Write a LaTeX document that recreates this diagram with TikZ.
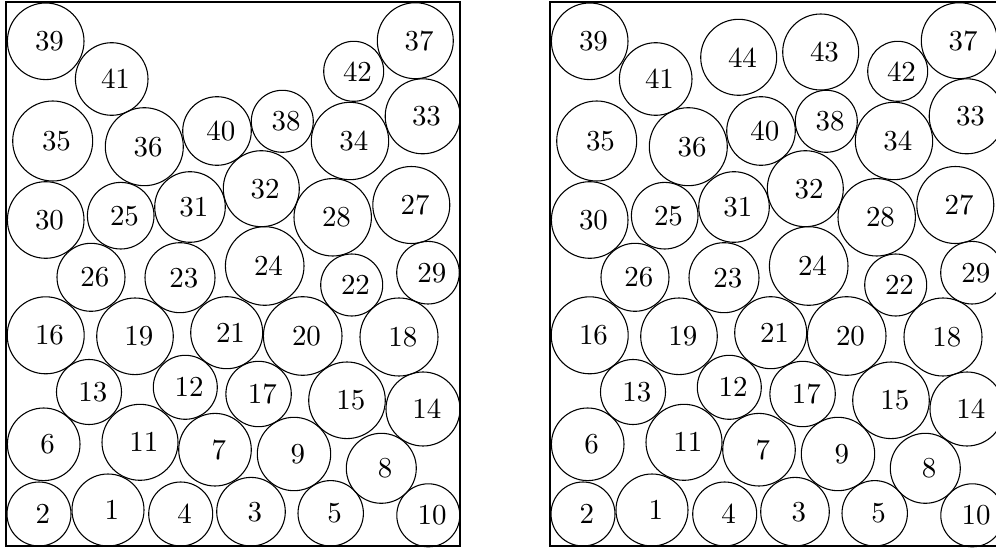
\documentclass[tikz,border=0pt]{standalone}
\begin{document}
\begin{tikzpicture}[x=0.37pt,y=-0.37pt,
  ball/.style={draw,circle,inner sep=0pt,line width=0.4pt},
  num/.style={font=\fontsize{10.7}{12}\selectfont,xshift=1.4pt},
  frame/.style={draw,line width=0.8pt}]
\useasboundingbox (0,0) rectangle (996,548);
\clip (0,0) rectangle (996,548);
\draw[frame] (6,2) rectangle (460,546);
\draw[frame] (550,2) rectangle (1004,546);
\foreach \n/\px/\py/\r in {
 1/108/510/36, 2/39/514/32, 3/251/511.7/34.3, 4/180.7/514/32, 5/330.7/513.3/32.7,
 6/43.7/444.3/36.3, 7/215/449.7/36.3, 8/381.3/468.3/35, 9/294/454/36.7, 10/428.3/515.3/31.5,
 11/140/442.3/38, 12/185.3/387.3/32, 13/89/392/32.5, 14/423/409/37, 15/347/400.3/38.3,
 16/45.7/335.3/38.5, 17/258.6/394/32.7, 18/399/337/39, 19/135/336.3/38.3, 20/302.7/336/39.3,
 21/226.7/332.7/36, 22/351.7/285/31, 23/180/277.7/35, 24/264.7/266/39.3, 25/120.7/215.7/33.3,
 26/91/277.3/34, 27/411.3/205/38.5, 28/332.7/217.3/38.7, 29/428/272.7/31.3, 30/45.7/220/38.3,
 31/190/207/35.3, 32/261.3/188.7/38, 33/422.7/116.3/37.5, 34/350/141/38.7, 35/52.7/141/40,
 36/144.3/146.7/39, 37/415.3/40.7/38, 38/282.3/121.3/31, 39/45.7/41.3/38.3, 40/217/131/34.3,
 41/111.7/79/36.3, 42/353.7/71.3/30}{
  \node[ball,minimum size=2*\r*0.37pt,label={[num]center:\n}] (L\n) at (\px,\py) {};
  \node[ball,minimum size=2*\r*0.37pt,label={[num]center:\n}] (R\n) at (\px+544,\py) {};
}
\node[ball,minimum size=2*38*0.37pt,label={[num]center:43}] (R43) at (820.7,52) {};
\node[ball,minimum size=2*38*0.37pt,label={[num]center:44}] (R44) at (738.7,57.3) {};
\end{tikzpicture}
\end{document}
